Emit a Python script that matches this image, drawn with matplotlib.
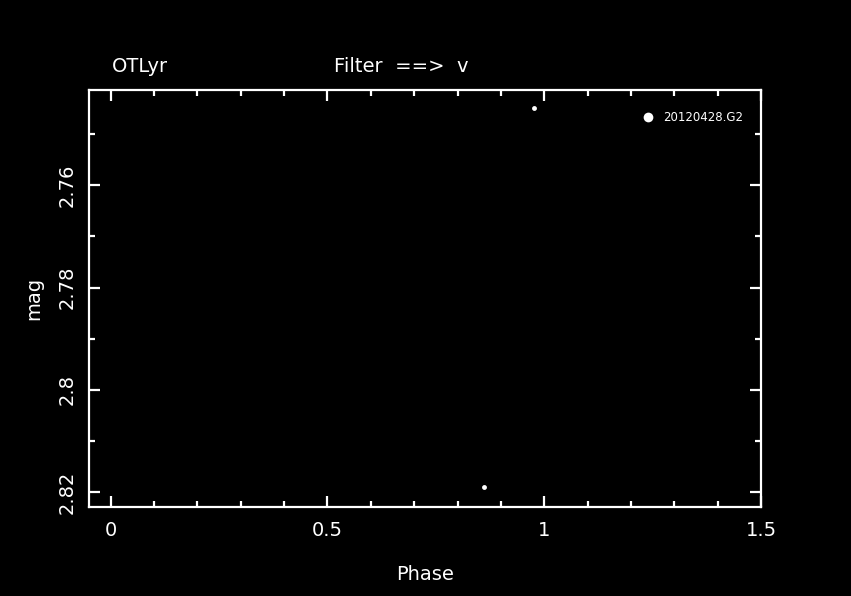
import matplotlib
matplotlib.use("Agg")
from matplotlib import pyplot as plt
from matplotlib.ticker import MultipleLocator

# phase-folded photometry
star = "OTLyr"
filter_name = "v"
night = "20120428.G2"
phase = [0.977, 0.862]
mag = [2.745, 2.819]

fg = "white"
plt.rcParams['font.family'] = ['DejaVu Sans']

fig = plt.figure(figsize=(8.51, 5.96), dpi=100, facecolor="black")
ax = fig.add_axes([0.1046, 0.1498, 0.7896, 0.6992], facecolor="black")

ax.plot(phase, mag, 'o', color=fg, markersize=3.5, markeredgewidth=0, label=night)

ax.set_xlim(-0.05, 1.5)
ax.set_ylim(2.8228, 2.7414)

ax.xaxis.set_major_locator(MultipleLocator(0.5))
ax.xaxis.set_minor_locator(MultipleLocator(0.1))
ax.yaxis.set_major_locator(MultipleLocator(0.02))
ax.yaxis.set_minor_locator(MultipleLocator(0.01))
ax.xaxis.set_major_formatter(plt.FuncFormatter(lambda v, p: f"{v:g}"))
ax.yaxis.set_major_formatter(plt.FuncFormatter(lambda v, p: f"{v:g}"))

for side in ax.spines.values():
    side.set_color(fg)
    side.set_linewidth(1.6)
ax.tick_params(which='both', direction='in', top=True, right=True, colors=fg, width=1.6)
ax.tick_params(which='major', length=8)
ax.tick_params(which='minor', length=4.5)
ax.tick_params(axis='x', which='major', labelsize=14, pad=10)
ax.tick_params(axis='y', which='major', labelsize=14, pad=9)
plt.setp(ax.get_yticklabels(), rotation=90, va='center')

ax.set_xlabel("Phase", color=fg, fontsize=14, labelpad=18)
ax.set_ylabel("mag", color=fg, fontsize=14, labelpad=10)

fig.text(112 / 851, 1 - 67 / 596, star, color=fg, fontsize=14, va='center', ha='left')
fig.text(334 / 851, 1 - 67 / 596, f"Filter  ==>  {filter_name}", color=fg, fontsize=14, va='center', ha='left')

leg = ax.legend(loc='upper right', bbox_to_anchor=(0.99, 0.975), frameon=False, fontsize=8.5,
                markerscale=2, handlelength=1.0, handletextpad=0.8, labelcolor=fg)

fig.savefig("out.png", dpi=100, facecolor="black")
